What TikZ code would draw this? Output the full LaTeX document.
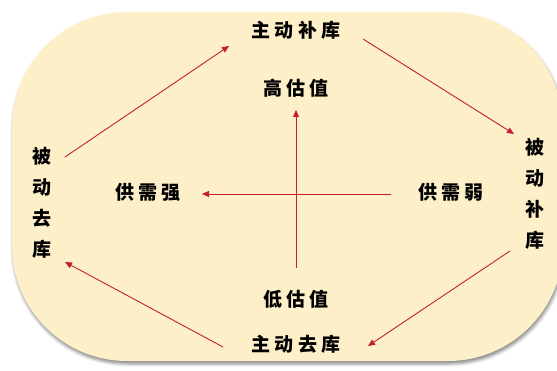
\documentclass[tikz,border=0pt]{standalone}
\usepackage{fontspec}
\newfontfamily\cjk{Noto Sans CJK SC}
\usetikzlibrary{arrows.meta,shadows.blur}
\definecolor{bgfill}{RGB}{253,239,199}
\definecolor{arrred}{RGB}{196,30,55}
\newcommand{\chgap}{\hspace{4.5pt}}
\tikzset{
  lbl/.style={font=\cjk\bfseries\fontsize{19}{19}\selectfont, text=black, inner sep=0pt},
  vlbl/.style={font=\cjk\bfseries\fontsize{19}{31}\selectfont, text=black, inner sep=0pt, align=center},
  arr/.style={draw=arrred, line width=0.9pt, -{Triangle[length=7pt,width=6pt]}}
}
\begin{document}
\begin{tikzpicture}[x=1pt,y=1pt]
\useasboundingbox (0,0) rectangle (557,370);
\fill[bgfill, rounded corners=115pt, blur shadow={shadow xshift=1pt, shadow yshift=-3pt, shadow blur radius=3pt, shadow opacity=45}] (12,9) rectangle (563,358);

\node[lbl] (zdbk) at (296,340) {主\chgap 动\chgap 补\chgap 库};
\node[lbl] (gzz) at (296,282) {高\chgap 估\chgap 值};
\node[lbl] (gxq) at (148,178) {供\chgap 需\chgap 强};
\node[lbl] (gxr) at (451,178) {供\chgap 需\chgap 弱};
\node[lbl] (dgz) at (296,71) {低\chgap 估\chgap 值};
\node[lbl] (zdqk) at (296,26) {主\chgap 动\chgap 去\chgap 库};
\node[vlbl] (bdbk) at (535,176) {被\\动\\补\\库};
\node[vlbl] (bdqk) at (42,167) {被\\动\\去\\库};

\coordinate (a1s) at (65,213);  \coordinate (a1e) at (229,324);
\coordinate (a2s) at (363,331); \coordinate (a2e) at (514,236);
\coordinate (a3s) at (510,119); \coordinate (a3e) at (368,24);
\coordinate (a4s) at (223,23);  \coordinate (a4e) at (65,108);
\coordinate (vs) at (296,102);  \coordinate (ve) at (296,260);
\coordinate (hs) at (391,176);  \coordinate (he) at (202,176);

\draw[arr] (a1s) -- (a1e);
\draw[arr] (a2s) -- (a2e);
\draw[arr] (a3s) -- (a3e);
\draw[arr] (a4s) -- (a4e);
\draw[arr] (vs) -- (ve);
\draw[arr] (hs) -- (he);
\end{tikzpicture}
\end{document}
